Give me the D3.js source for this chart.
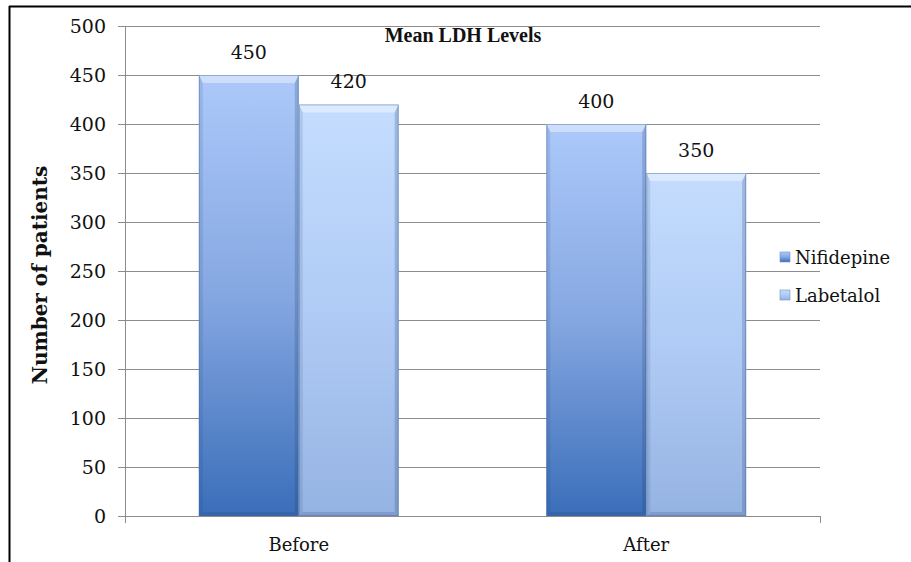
<!DOCTYPE html>
<html>
<head>
<meta charset="utf-8">
<script src="https://cdn.jsdelivr.net/npm/d3@7"></script>
<style>
  body { margin: 0; background: #fff; }
  svg { display: block; }
</style>
</head>
<body>
<svg id="chart"></svg>
<script>
// chart data
const categories = ["Before", "After"];
const seriesNames = ["Nifidepine", "Labetalol"];
const nifidepine = [450, 400];
const labetalol = [420, 350];
const yTicks = [0, 50, 100, 150, 200, 250, 300, 350, 400, 450, 500];

const width = 911, height = 562;
const margin = { top: 26, right: 91, bottom: 46, left: 125 };
const innerW = width - margin.left - margin.right;
const innerH = height - margin.top - margin.bottom;

const svg = d3.select("#chart").attr("width", width).attr("height", height);

// frame lines (top + left only, like the source crop)
svg.append("line").attr("x1", 9).attr("x2", 911).attr("y1", 6.5).attr("y2", 6.5)
  .attr("stroke", "#000").attr("stroke-width", 2);
svg.append("line").attr("x1", 9.5).attr("x2", 9.5).attr("y1", 6).attr("y2", 562)
  .attr("stroke", "#000").attr("stroke-width", 2);

const defs = svg.append("defs");
const grads = [
  { id: "g0", top: "#adc9fa", mid: "#85a7e1", bot: "#3a6eb9" },
  { id: "g1", top: "#c4ddfe", mid: "#b0cbf5", bot: "#95b3e2" }
];
grads.forEach(g => {
  const lg = defs.append("linearGradient").attr("id", g.id)
    .attr("x1", 0).attr("x2", 0).attr("y1", 0).attr("y2", 1);
  lg.append("stop").attr("offset", "0%").attr("stop-color", g.top);
  lg.append("stop").attr("offset", "50%").attr("stop-color", g.mid);
  lg.append("stop").attr("offset", "100%").attr("stop-color", g.bot);
});

const chart = svg.append("g").attr("transform", `translate(${margin.left},${margin.top})`);

const x0 = d3.scaleBand().domain(categories).range([0, innerW]).paddingInner(0.425).paddingOuter(0.2125);
const x1 = d3.scaleBand().domain(seriesNames).range([0, x0.bandwidth()]);
const y = d3.scaleLinear().domain([0, 500]).range([innerH, 0]);

// gridlines
chart.append("g").selectAll("line").data(yTicks.filter(d => d > 0)).join("line")
  .attr("x1", 0).attr("x2", innerW)
  .attr("y1", d => Math.round(y(d)) + 0.5).attr("y2", d => Math.round(y(d)) + 0.5)
  .attr("stroke", "#8c8c8c").attr("stroke-width", 1);

// y axis
const yAxis = chart.append("g")
  .call(d3.axisLeft(y).tickValues(yTicks).tickSize(7).tickPadding(12));
yAxis.select(".domain").attr("stroke", "#8c8c8c");
yAxis.selectAll(".tick line").attr("stroke", "#8c8c8c");
yAxis.selectAll("text").attr("font-family", "'DejaVu Serif', serif").attr("font-size", 19).attr("fill", "#111");

// x axis
const xAxis = chart.append("g").attr("transform", `translate(0,${innerH})`)
  .call(d3.axisBottom(x0).tickSize(0).tickPadding(22));
xAxis.select(".domain").attr("stroke", "#8c8c8c");
xAxis.selectAll("text").attr("font-family", "'DejaVu Serif', serif").attr("font-size", 18).attr("fill", "#111");
// tick marks at category boundaries
chart.append("g").selectAll("line").data([0, innerW]).join("line")
  .attr("x1", d => Math.round(d) + 0.5).attr("x2", d => Math.round(d) + 0.5)
  .attr("y1", innerH).attr("y2", innerH + 7)
  .attr("stroke", "#8c8c8c");

// bars
const rows = categories.map((c, i) => ({ cat: c, vals: [nifidepine[i], labetalol[i]] }));
const groups = chart.selectAll(".grp").data(rows).join("g")
  .attr("transform", d => `translate(${x0(d.cat)},0)`);

const bars = groups.selectAll(".bar").data(d => d.vals.map((v, k) => ({ v, k, name: seriesNames[k] })))
  .join("g").attr("class", "bar");

bars.each(function(d) {
  const g = d3.select(this);
  const bx = x1(d.name), bw = x1.bandwidth();
  const by = y(d.v), bh = innerH - by;
  const t = 8, s = 4, b = 4;
  g.append("rect").attr("x", bx).attr("y", by).attr("width", bw).attr("height", bh)
    .attr("fill", `url(#g${d.k})`);
  // top bevel highlight
  g.append("path")
    .attr("d", `M${bx},${by}L${bx + bw},${by}L${bx + bw - s},${by + t}L${bx + s},${by + t}Z`)
    .attr("fill", "#ffffff").attr("opacity", 0.4);
  // left bevel
  g.append("path")
    .attr("d", `M${bx},${by}L${bx + s},${by + t}L${bx + s},${by + bh - b}L${bx},${by + bh}Z`)
    .attr("fill", "#1c3a6e").attr("opacity", 0.12);
  // right bevel
  g.append("path")
    .attr("d", `M${bx + bw},${by}L${bx + bw - s},${by + t}L${bx + bw - s},${by + bh - b}L${bx + bw},${by + bh}Z`)
    .attr("fill", "#1c3a6e").attr("opacity", 0.22);
  // bottom bevel
  g.append("path")
    .attr("d", `M${bx},${by + bh}L${bx + s},${by + bh - b}L${bx + bw - s},${by + bh - b}L${bx + bw},${by + bh}Z`)
    .attr("fill", "#1c3a6e").attr("opacity", 0.18);
  // outline
  g.append("rect").attr("x", bx + 0.5).attr("y", by + 0.5).attr("width", bw - 1).attr("height", bh - 1)
    .attr("fill", "none").attr("stroke", "#4a6a9c").attr("stroke-opacity", 0.45);
  // value label
  g.append("text").attr("x", bx + bw / 2).attr("y", by - 16)
    .attr("text-anchor", "middle")
    .attr("font-family", "'DejaVu Serif', serif").attr("font-size", 19).attr("fill", "#111")
    .text(d.v);
});

// title
svg.append("text").attr("x", 463).attr("y", 42).attr("text-anchor", "middle")
  .attr("font-family", "'Liberation Serif', serif").attr("font-weight", "bold").attr("font-size", 20)
  .attr("fill", "#111").text("Mean LDH Levels");

// y axis title
svg.append("text").attr("transform", "translate(47,275) rotate(-90)").attr("text-anchor", "middle")
  .attr("font-family", "'DejaVu Serif', serif").attr("font-weight", "bold").attr("font-size", 20)
  .attr("fill", "#111").text("Number of patients");

// legend
const legend = svg.append("g").attr("transform", "translate(780,0)");
const legendY = [258, 296];
seriesNames.forEach((n, k) => {
  legend.append("rect").attr("x", 0).attr("y", legendY[k] - 6).attr("width", 10).attr("height", 10)
    .attr("fill", `url(#g${k})`).attr("stroke", "#6f8fc0").attr("stroke-width", 0.6);
  legend.append("text").attr("x", 15).attr("y", legendY[k] + 6)
    .attr("font-family", "'DejaVu Serif', serif").attr("font-size", 18).attr("fill", "#111").text(n);
});
</script>
</body>
</html>
